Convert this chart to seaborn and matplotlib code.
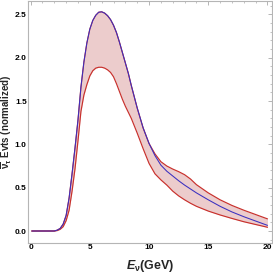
import numpy as np
import pandas as pd
import seaborn as sns
import matplotlib.pyplot as plt
from matplotlib.ticker import MultipleLocator

# energies (GeV) and curves
energy = [0.1, 1, 2, 2.25, 2.5, 2.75, 3, 3.25, 3.5, 3.75, 4, 4.25, 4.5, 4.75, 5, 5.25,
          5.5, 5.75, 6, 6.25, 6.5, 6.75, 7, 7.25, 7.5, 7.75, 8, 8.25, 8.5, 9, 9.5,
          10, 10.5, 11, 11.5, 12, 12.5, 13, 13.5, 14, 15, 16, 17, 18, 19, 20]
central = [0, 0, 0, 0.01, 0.03, 0.08, 0.18, 0.38, 0.66, 0.96, 1.28, 1.66, 1.95, 2.17,
           2.33, 2.43, 2.49, 2.525, 2.53, 2.515, 2.485, 2.44, 2.375, 2.29, 2.18, 2.06,
           1.94, 1.82, 1.68, 1.42, 1.19, 1.01, 0.87, 0.76, 0.69, 0.635, 0.58, 0.53,
           0.485, 0.44, 0.36, 0.285, 0.22, 0.165, 0.115, 0.065]
upper = [0, 0, 0, 0.01, 0.03, 0.08, 0.18, 0.38, 0.66, 0.96, 1.28, 1.66, 1.95, 2.17,
         2.33, 2.43, 2.49, 2.525, 2.53, 2.515, 2.485, 2.44, 2.375, 2.29, 2.18, 2.06,
         1.94, 1.82, 1.68, 1.42, 1.19, 1.01, 0.89, 0.80, 0.75, 0.715, 0.685, 0.65,
         0.60, 0.535, 0.44, 0.36, 0.295, 0.24, 0.19, 0.14]
lower = [0, 0, 0, 0.005, 0.02, 0.05, 0.12, 0.24, 0.46, 0.72, 1.04, 1.38, 1.57, 1.69,
         1.79, 1.85, 1.88, 1.89, 1.89, 1.88, 1.86, 1.83, 1.78, 1.70, 1.61, 1.52, 1.44,
         1.37, 1.30, 1.13, 0.95, 0.78, 0.66, 0.59, 0.53, 0.46, 0.405, 0.36, 0.32,
         0.285, 0.23, 0.185, 0.145, 0.107, 0.075, 0.043]

df = pd.DataFrame({'E': energy, 'central': central, 'upper': upper, 'lower': lower})

sns.set_style('white')
plt.rcParams['font.family'] = ['Liberation Sans Narrow', 'Liberation Sans', 'DejaVu Sans']
plt.rcParams['font.weight'] = 'bold'
plt.rcParams['axes.labelweight'] = 'bold'
plt.rcParams['mathtext.fontset'] = 'custom'
plt.rcParams['mathtext.rm'] = 'Liberation Sans:bold'
plt.rcParams['mathtext.bf'] = 'Liberation Sans:bold'
plt.rcParams['mathtext.it'] = 'Liberation Sans:bold:italic'
plt.rcParams['mathtext.bfit'] = 'Liberation Sans:bold:italic'
plt.rcParams['mathtext.default'] = 'bf'

fig = plt.figure(figsize=(2.73, 2.73), dpi=100)
ax = fig.add_axes([0.103, 0.111, 0.892, 0.887])

red = '#c8302c'
ax.fill_between(df['E'], df['lower'], df['upper'], color='#e9c3c3', alpha=0.85, lw=0)
sns.lineplot(data=df, x='E', y='upper', color=red, lw=0.85, ax=ax)
sns.lineplot(data=df, x='E', y='lower', color=red, lw=0.85, ax=ax)
sns.lineplot(data=df, x='E', y='central', color='#3a2fc0', lw=0.75, ax=ax)

ax.set_xlim(-0.21, 20.35)
ax.set_ylim(-0.135, 2.66)
ax.xaxis.set_major_locator(MultipleLocator(5))
ax.xaxis.set_minor_locator(MultipleLocator(1))
ax.yaxis.set_major_locator(MultipleLocator(0.5))
ax.yaxis.set_minor_locator(MultipleLocator(0.1))
ax.yaxis.set_major_formatter(plt.FuncFormatter(lambda v, p: f'{v:.1f}'))
ax.tick_params(which='both', direction='in', top=True, right=True, colors='#aaaaaa',
               labelcolor='black', labelsize=6, pad=1)
ax.tick_params(which='major', length=3, width=0.6)
ax.tick_params(which='minor', length=1.6, width=0.5)
for s in ax.spines.values():
    s.set_color('#b5b5b5')
    s.set_linewidth(0.8)

ax.set_xlabel(r'$\mathbfit{E}_{\nu}$(GeV)', fontsize=9, fontweight='bold')
ax.set_ylabel(r'$\overline{\nu}_{\tau}$ Evts (normalized)', fontsize=7, fontweight='bold')
ax.xaxis.set_label_coords(0.5, -0.062)
ax.yaxis.set_label_coords(-0.056, 0.5)

fig.savefig('out.png', dpi=100)
